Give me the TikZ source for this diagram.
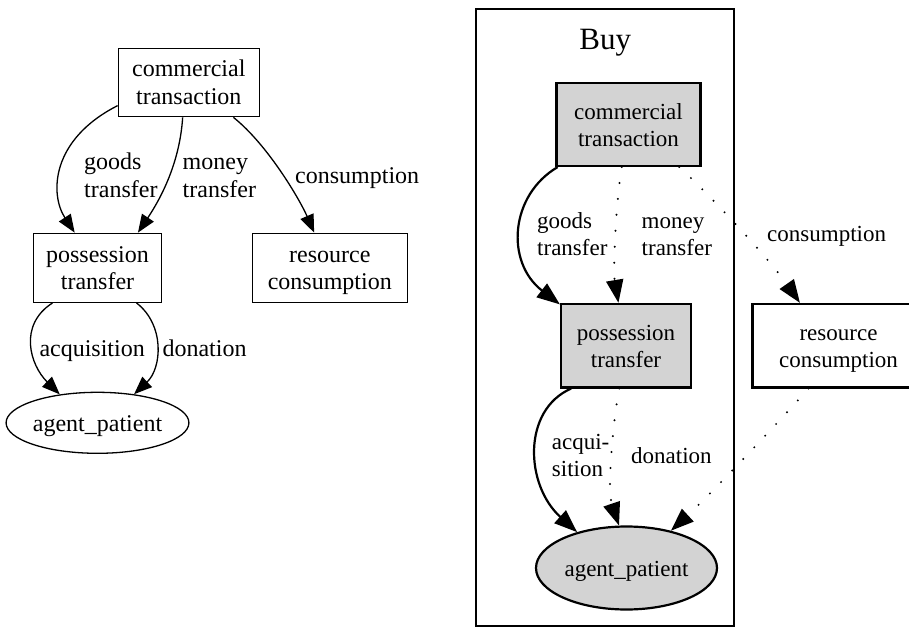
\documentclass[tikz,border=0pt]{standalone}
\usepackage{fontspec}
\setmainfont{Liberation Serif}
\usetikzlibrary{shapes.geometric, arrows.meta}
\definecolor{gvgray}{RGB}{211,211,211}

\begin{document}
\begin{tikzpicture}[x=1pt, y=-1pt,
        box/.style={rectangle, draw, line width=1.3pt, align=center, inner sep=0pt, text height=49pt, text depth=5pt, font=\fontsize{24}{27.5}\selectfont},
        oval/.style={ellipse, draw, line width=1.3pt, inner sep=0pt, text height=18pt, text depth=1pt, font=\fontsize{24}{27.5}\selectfont},
        lbl/.style={anchor=base west, align=left, inner sep=0pt, font=\fontsize{24}{27.5}\selectfont},
        arr/.style={-{Triangle[length=18pt, width=14pt]}, line width=1.3pt},
        gbox/.style={box, line width=2.2pt, fill=gvgray, font=\fontsize{23}{27}\selectfont},
        wbox/.style={box, line width=2.2pt, font=\fontsize{23}{27}\selectfont},
        goval/.style={oval, line width=2.2pt, fill=gvgray, font=\fontsize{23}{27}\selectfont},
        glbl/.style={lbl, font=\fontsize{23}{27}\selectfont},
        bold/.style={-{Triangle[length=23pt, width=17pt]}, line width=2.2pt},
        dots/.style={bold, dash pattern=on 0pt off 16pt, line cap=round}]
        \useasboundingbox (0,0) rectangle (909,628);
        \clip (0,0) rectangle (909,628);

        % Define nodes (plain graph)
        \node (commercial) [box, minimum width=141pt, minimum height=68.4pt] at (188.8,82.5) {commercial\\transaction};
        \node (possession) [box, minimum width=127.6pt, minimum height=69pt] at (97.5,267.8) {possession\\transfer};
        \node (resource) [box, minimum width=155pt, minimum height=69pt] at (329.8,267.8) {resource\\consumption};
        \node (agent) [oval, minimum width=171pt, minimum height=61pt] at (97.5,422.8) {agent\_patient};

        % Edge labels
        \node (goodslbl) [lbl] at (84,197.5) {goods\\transfer};
        \node (moneylbl) [lbl] at (182.5,197.5) {money\\transfer};
        \node (consumelbl) [lbl] at (295,184) {consumption};
        \node (acquirelbl) [lbl] at (39.3,356) {acquisition};
        \node (donatelbl) [lbl] at (162.3,356) {donation};

        % Draw arrows
        \draw[arr] (commercial.198) .. controls (50,140) and (50,195) .. (possession.123);
        \draw[arr] (commercial.260) .. controls (180,160) and (163,195) .. (possession.41);
        \draw[arr] (commercial.322) .. controls (268,145) and (300,200) .. (resource.114);
        \draw[arr] (possession.218) .. controls (18,325) and (30,365) .. (agent.143);
        \draw[arr] (possession.318) .. controls (165,325) and (162,368) .. (agent.38);

        % Define nodes (Buy frame)
        \node (frame) [draw, line width=2.2pt, minimum width=258pt, minimum height=617pt] at (605,317.5) {};
        \node (buy) [anchor=base, inner sep=0pt, font=\fontsize{31}{36}\selectfont] at (605.3,49.3) {Buy};
        \node (commercial2) [gbox, minimum width=144pt, minimum height=83pt] at (628.5,124.5) {commercial\\transaction};
        \node (possession2) [gbox, minimum width=130pt, minimum height=83.5pt] at (626,345.7) {possession\\transfer};
        \node (resource2) [wbox, minimum width=172pt, minimum height=83.5pt] at (838.5,345.7) {resource\\consumption};
        \node (agent2) [goval, minimum width=181pt, minimum height=83pt] at (626.5,568) {agent\_patient};

        % Edge labels
        \node (goodslbl2) [glbl] at (537,255) {goods\\transfer};
        \node (moneylbl2) [glbl] at (641.5,255) {money\\transfer};
        \node (consumelbl2) [glbl] at (767,241.7) {consumption};
        \node (acquirelbl2) [glbl] at (551.7,476.7) {acqui-\\sition};
        \node (donatelbl2) [glbl] at (631,463.3) {donation};

        % Draw arrows
        \draw[bold] (commercial2.211) .. controls (510,195) and (505,262) .. (possession2.148);
        \draw[dots] (commercial2.261) .. controls (616,200) and (613,270) .. (possession2.100);
        \draw[dots] (commercial2.320) .. controls (710,195) and (770,260) .. (resource2.132);
        \draw[bold] (possession2.218) .. controls (522,410) and (525,485) .. (agent2.144);
        \draw[dots] (possession2.261) .. controls (613,420) and (607,490) .. (agent2.100);
        \draw[dots] (resource2.235) .. controls (785,415) and (715,490) .. (agent2.40);
    \end{tikzpicture}
\end{document}
